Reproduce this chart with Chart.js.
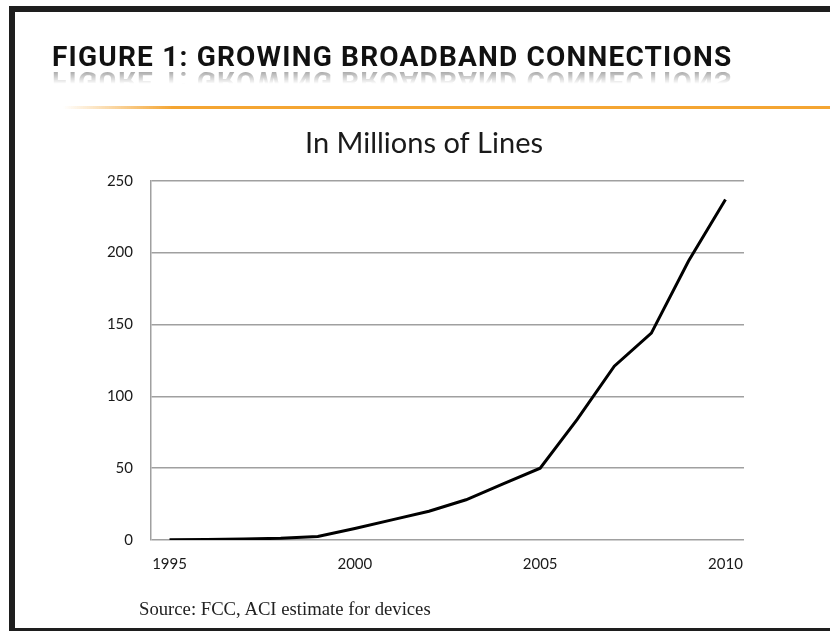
<!DOCTYPE html>
<html>
<head>
<meta charset="utf-8">
<title>Growing Broadband Connections</title>
<script src="https://cdn.jsdelivr.net/npm/chart.js@4.4.1/dist/chart.umd.min.js"></script>
<style>
  html, body { margin: 0; padding: 0; background: #fff; }
  body { width: 830px; height: 631px; position: relative; overflow: hidden; }
  #frame {
    position: absolute; left: 9px; top: 6px; width: 900px; height: 616px;
    border: 6px solid #1e1e1e; border-right: none; box-sizing: content-box;
  }
  #heading {
    position: absolute; left: 52px; top: 43px; margin: 0;
    font: bold 28px Roboto, "DejaVu Sans", sans-serif; line-height: 28px;
    letter-spacing: 1.2px;
    color: #111; white-space: nowrap;
    -webkit-box-reflect: below -4px linear-gradient(transparent 40%, rgba(0,0,0,0.5));
  }
  #rule {
    position: absolute; left: 63px; top: 106px; width: 767px; height: 3px;
    background: linear-gradient(to right, rgba(244,165,50,0) 0, #f4a532 110px, #f4a532 100%);
  }
  #chartBox { position: absolute; left: 0; top: 0; width: 830px; height: 631px; }
  #source {
    position: absolute; left: 139px; top: 598px; line-height: 20px;
    font: 18.7px "Liberation Serif", "DejaVu Serif", serif; color: #222;
    white-space: nowrap;
  }
</style>
</head>
<body>
<div id="chartBox"><canvas id="lines"></canvas></div>
<div id="frame"></div>
<h1 id="heading">FIGURE 1: GROWING BROADBAND CONNECTIONS</h1>
<div id="rule"></div>
<div id="source">Source: FCC, ACI estimate for devices</div>

<script>
// broadband lines in the US, millions
const years = ['1995','1996','1997','1998','1999','2000','2001','2002',
               '2003','2004','2005','2006','2007','2008','2009','2010'];
const lines = [0.2, 0.4, 0.7, 1.2, 2.5, 8, 14, 20, 28, 39, 50, 84, 121, 144, 194, 237];
const yTicks = [0, 50, 100, 150, 200, 250];
const labelYears = ['1995', '2000', '2005', '2010'];

const gridGray = '#a0a0a0';

new Chart(document.getElementById('lines'), {
  type: 'line',
  data: {
    labels: years,
    datasets: [{
      label: 'Lines',
      data: lines,
      borderColor: '#000',
      borderWidth: 3,
      pointRadius: 0,
      tension: 0,
      fill: false
    }]
  },
  options: {
    responsive: true,
    maintainAspectRatio: false,
    animation: false,
    layout: { padding: { left: 104, right: 86, top: 100, bottom: 61 } },
    plugins: {
      legend: { display: false },
      tooltip: { enabled: false },
      title: {
        display: true,
        text: 'In Millions of Lines',
        color: '#1a1a1a',
        font: { family: 'Lato', size: 29, weight: 'normal' },
        padding: { top: 26, bottom: 20 }
      }
    },
    scales: {
      x: {
        offset: true,
        grid: { display: false, drawTicks: false },
        border: { display: false },
        afterFit: s => { s.height = 30; },
        ticks: {
          autoSkip: false,
          maxRotation: 0,
          padding: 15,
          color: '#1a1a1a',
          font: { family: 'Lato', size: 15 },
          callback: function(v) {
            const y = this.getLabelForValue(v);
            return labelYears.includes(y) ? y : '';
          }
        }
      },
      y: {
        min: 0,
        max: 250,
        afterFit: s => { s.width = 47; },
        afterBuildTicks: s => { s.ticks = yTicks.map(v => ({ value: v })); },
        grid: { color: gridGray, lineWidth: 1.5, drawTicks: false },
        border: { display: true, color: gridGray, width: 1.5 },
        ticks: {
          padding: 18,
          color: '#1a1a1a',
          font: { family: 'Lato', size: 15 }
        }
      }
    }
  }
});
</script>
</body>
</html>
